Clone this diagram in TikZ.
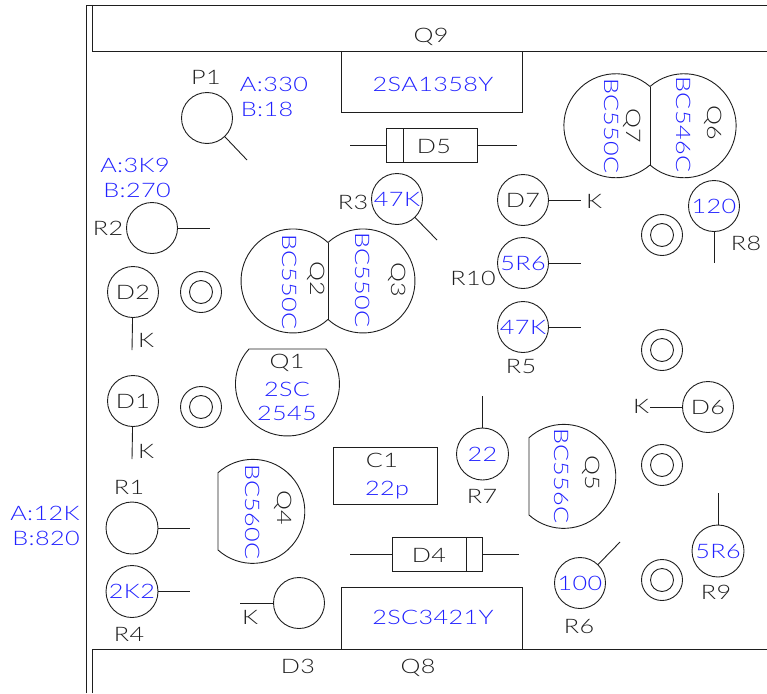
\documentclass[tikz,border=0pt]{standalone}
\usepackage{fontspec}
\newfontfamily\cad[FakeStretch=1.26,LetterSpace=2,UprightFont={* Light}]{Lato}
\definecolor{ink}{HTML}{1E1E1E}
\definecolor{val}{HTML}{2020FF}
\tikzset{
  wire/.style={draw=ink,line width=0.9pt},
  lbl/.style={inner sep=0pt,text=ink,text height=14pt,text depth=0pt,font=\cad\fontsize{20}{20}\selectfont},
  vlu/.style={lbl,text=val},
  vlbl/.style={lbl,rotate=-90},
  vval/.style={vlu,rotate=-90},
  pin/.style={circle,wire,minimum size=51pt,inner sep=0pt,outer sep=0pt,text=ink,text height=14pt,text depth=0pt,font=\cad\fontsize{20}{20}\selectfont},
  vpin/.style={pin,text=val},
  padout/.style={circle,wire,minimum size=41pt,inner sep=0pt,outer sep=0pt},
  padin/.style={circle,wire,minimum size=23pt,inner sep=0pt,outer sep=0pt},
}
\newcommand{\ringpad}[3]{\node[padout] (#1o) at (#2,#3) {};\node[padin] (#1i) at (#2,#3) {};}
\begin{document}
\begin{tikzpicture}[x=1pt,y=-1pt]
\useasboundingbox (0,0) rectangle (767,693);
% frame
\coordinate (fa) at (86,693); \coordinate (fb) at (86,5); \coordinate (fc) at (767,5);
\draw[wire] (fa) -- (fb) -- (fc);
% Q9 and Q8 large outlines
\coordinate (q9a) at (92,5); \coordinate (q9b) at (92,51); \coordinate (q9c) at (767,51);
\draw[wire] (q9a) -- (q9b) -- (q9c);
\coordinate (q8a) at (92,693); \coordinate (q8b) at (92,649); \coordinate (q8c) at (767,649);
\draw[wire] (q8a) -- (q8b) -- (q8c);
\node[lbl] (tq9) at (431,35) {Q9};
\node[lbl] (td3) at (298,666) {D3};
\node[lbl] (tq8) at (418,666) {Q8};
% 2SA box
\coordinate (sa) at (341,51); \coordinate (sb) at (341,112); \coordinate (sc) at (522,112); \coordinate (sd) at (522,51);
\draw[wire] (sa) -- (sb) -- (sc) -- (sd);
\node[vlu] (t2sa) at (433,84) {2SA1358Y};
% 2SC box
\coordinate (ca) at (341,649); \coordinate (cb) at (341,587); \coordinate (cc) at (522,587); \coordinate (cd) at (522,649);
\draw[wire] (ca) -- (cb) -- (cc) -- (cd);
\node[vlu] (t2sc) at (433,617) {2SC3421Y};
% D5
\node[wire,rectangle,minimum width=91pt,minimum height=34pt,inner sep=0pt,outer sep=0pt] (d5) at (431.5,145) {};
\node[lbl] (td5) at (434,146) {D5};
\coordinate (d5bt) at (403,128); \coordinate (d5bb) at (403,162);
\draw[wire] (d5bt) -- (d5bb);
\coordinate (d5l) at (350,145); \coordinate (d5r) at (517,145);
\draw[wire] (d5.west) -- (d5l); \draw[wire] (d5.east) -- (d5r);
% D4
\node[wire,rectangle,minimum width=90pt,minimum height=34pt,inner sep=0pt,outer sep=0pt] (d4) at (437,554) {};
\node[lbl] (td4) at (429,555) {D4};
\coordinate (d4bt) at (466,537); \coordinate (d4bb) at (466,571);
\draw[wire] (d4bt) -- (d4bb);
\coordinate (d4l) at (350,554); \coordinate (d4r) at (519,554);
\draw[wire] (d4.west) -- (d4l); \draw[wire] (d4.east) -- (d4r);
% C1
\node[wire,rectangle,minimum width=104pt,minimum height=57pt,inner sep=0pt,outer sep=0pt] (c1) at (385,475.5) {};
\node[lbl] (tc1) at (382,460) {C1};
\node[vlu] (tc1v) at (387,488) {22p};
% P1
\node[pin] (p1) at (207,118) {};
\coordinate (p1e) at (247,160); \draw[wire] (p1) -- (p1e);
\node[lbl] (tp1) at (206,77) {P1};
\node[vlu] (tp1a) at (274,84) {A:330};
\node[vlu] (tp1b) at (267,109) {B:18};
% R2
\node[pin] (r2) at (152,228) {};
\coordinate (r2e) at (210,228); \draw[wire] (r2) -- (r2e);
\node[lbl] (tr2) at (108,228) {R2};
\node[vlu] (tr2a) at (135,165) {A:3K9};
\node[vlu] (tr2b) at (137,190) {B:270};
% R3
\node[vpin] (r3) at (397,199) {47K};
\coordinate (r3e) at (437,240); \draw[wire] (r3) -- (r3e);
\node[lbl] (tr3) at (353,202) {R3};
% Q2 Q3
\draw[wire] (328,242.5) arc[start angle=47.7,end angle=312.3,radius=52pt];
\draw[wire] (328,242.5) arc[start angle=132.3,end angle=-132.3,radius=52pt];
\coordinate (q23a) at (328,242.5); \coordinate (q23b) at (328,319.5);
\draw[wire] (q23a) -- (q23b);
\node[vval] (tq2v) at (289,282) {BC550C};
\node[vlbl] (tq2) at (317,279) {Q2};
\node[vval] (tq3v) at (362,280) {BC550C};
\node[vlbl] (tq3) at (398,280) {Q3};
% Q7 Q6
\draw[wire] (650,86.5) arc[start angle=49,end angle=311,radius=52pt];
\draw[wire] (650,86.5) arc[start angle=131,end angle=-131,radius=52pt];
\coordinate (q76a) at (650,86.5); \coordinate (q76b) at (650,165);
\draw[wire] (q76a) -- (q76b);
\node[vval] (tq7v) at (611,126) {BC550C};
\node[vlbl] (tq7) at (633,126) {Q7};
\node[vval] (tq6v) at (683,124.5) {BC546C};
\node[vlbl] (tq6) at (714,123) {Q6};
% D2 D1
\node[pin] (d2) at (133,292) {D2};
\coordinate (d2e) at (132,350); \draw[wire] (d2) -- (d2e);
\node[lbl] (td2k) at (146,340) {K};
\node[pin] (d1) at (133,401) {D1};
\coordinate (d1e) at (132,459); \draw[wire] (d1) -- (d1e);
\node[lbl] (td1k) at (146,451) {K};
\ringpad{pa}{201}{292}
\ringpad{pb}{201}{407}
\ringpad{pc}{662}{235}
\ringpad{pd}{662}{350}
\ringpad{pe}{662}{465}
\ringpad{pf}{662}{580}
% Q1
\draw[wire] (249,349) arc[start angle=137.7,end angle=402.3,radius=52pt] -- cycle;
\node[lbl] (tq1) at (287,361) {Q1};
\node[vlu] (tq1a) at (287,389) {2SC};
\node[vlu] (tq1b) at (287,413) {2545};
% R1 R4
\node[pin,minimum size=52pt] (r1) at (132,528) {};
\coordinate (r1e) at (190,528); \draw[wire] (r1) -- (r1e);
\node[lbl] (tr1) at (129,487) {R1};
\node[vlu] (tr1a) at (45,513) {A:12K};
\node[vlu] (tr1b) at (46,538) {B:820};
\node[vpin,minimum size=52pt] (r4) at (132,591.5) {2K2};
\coordinate (r4e) at (190,591.5); \draw[wire] (r4) -- (r4e);
\node[lbl] (tr4) at (129,634) {R4};
% Q4
\draw[wire] (218,550) arc[start angle=228,end angle=492,radius=52pt] -- cycle;
\node[vval] (tq4v) at (252,512) {BC560C};
\node[vlbl] (tq4) at (284,508) {Q4};
% D3 circle
\node[pin] (d3) at (299,603) {};
\coordinate (d3e) at (240,603); \draw[wire] (d3) -- (d3e);
\node[lbl] (td3k) at (250,617) {K};
% D7
\node[pin] (d7) at (523,200) {D7};
\coordinate (d7e) at (581,200); \draw[wire] (d7) -- (d7e);
\node[lbl] (td7k) at (594,201) {K};
% R8
\node[vpin] (r8) at (714,206) {120};
\coordinate (r8e) at (714,263); \draw[wire] (r8) -- (r8e);
\node[lbl] (tr8) at (746,243) {R8};
% R10
\node[vpin] (r10) at (523,263) {5R6};
\coordinate (r10e) at (581,263); \draw[wire] (r10) -- (r10e);
\node[lbl] (tr10) at (473,278) {R10};
% R5
\node[vpin] (r5) at (523,327) {47K};
\coordinate (r5e) at (581,327); \draw[wire] (r5) -- (r5e);
\node[lbl] (tr5) at (521,366) {R5};
% D6
\node[pin] (d6) at (708,407) {D6};
\coordinate (d6e) at (650,407); \draw[wire] (d6) -- (d6e);
\node[lbl] (td6k) at (641,406) {K};
% R7
\node[vpin,minimum size=52pt] (r7) at (482.5,454) {22};
\coordinate (r7e) at (482.5,396); \draw[wire] (r7) -- (r7e);
\node[lbl] (tr7) at (482,496) {R7};
% Q5
\draw[wire] (529,515) arc[start angle=228,end angle=492,radius=52pt] -- cycle;
\node[vval] (tq5v) at (561,476) {BC556C};
\node[vlbl] (tq5) at (592,473) {Q5};
% R9
\node[vpin,minimum size=52pt] (r9) at (718,551) {5R6};
\coordinate (r9e) at (718,493); \draw[wire] (r9) -- (r9e);
\node[lbl] (tr9) at (716,592) {R9};
% R6
\node[vpin] (r6) at (580,583) {100};
\coordinate (r6e) at (620,542); \draw[wire] (r6) -- (r6e);
\node[lbl] (tr6) at (579,626) {R6};
\end{tikzpicture}
\end{document}
